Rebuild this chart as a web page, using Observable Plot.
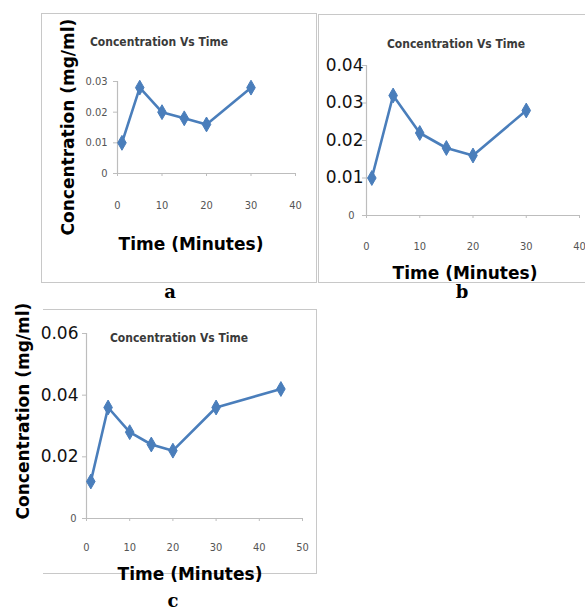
<!DOCTYPE html>
<html>
<head>
<meta charset="utf-8">
<script src="https://cdn.jsdelivr.net/npm/d3@7"></script>
<script src="https://cdn.jsdelivr.net/npm/@observablehq/plot@0.6"></script>
<style>
  html, body { margin: 0; padding: 0; background: #fff; }
  #root { position: relative; width: 585px; height: 612px; overflow: hidden; background: #fff; }
  .abs { position: absolute; white-space: nowrap; line-height: 1; }
  .box { position: absolute; box-sizing: border-box; }
  .ttl { font-family: "Liberation Sans Narrow", "DejaVu Sans Condensed", sans-serif; font-weight: bold; font-size: 12px; color: #3a3a3a; }
  .axl { font-family: "DejaVu Sans", sans-serif; font-weight: bold; font-size: 17px; color: #000; }
  .pl { font-family: "DejaVu Serif", "Liberation Serif", serif; font-weight: bold; font-size: 18px; color: #000; }
</style>
</head>
<body>
<div id="root"></div>
<script>
// ---- data ----
const chartTitle = "Concentration Vs Time";
const xLabel = "Time (Minutes)";
const yLabel = "Concentration (mg/ml)";
const panelLabels = ["a", "b", "c"];

const timeA = [1, 5, 10, 15, 20, 30];
const concA = [0.010, 0.028, 0.020, 0.018, 0.016, 0.028];
const xTicksA = [0, 10, 20, 30, 40];
const yTicksA = [0, 0.01, 0.02, 0.03];

const timeB = [1, 5, 10, 15, 20, 30];
const concB = [0.010, 0.032, 0.022, 0.018, 0.016, 0.028];
const xTicksB = [0, 10, 20, 30, 40];
const yTicksB = [0, 0.01, 0.02, 0.03, 0.04];

const timeC = [1, 5, 10, 15, 20, 30, 45];
const concC = [0.012, 0.036, 0.028, 0.024, 0.022, 0.036, 0.042];
const xTicksC = [0, 10, 20, 30, 40, 50];
const yTicksC = [0, 0.02, 0.04, 0.06];

const lineColor = "#4a7ebb";
const axisColor = "#bdbdbd";
const smallFont = "Liberation Sans Narrow, DejaVu Sans Condensed, sans-serif";
const bigFont = "DejaVu Sans, sans-serif";

const root = document.getElementById("root");

function addText(cls, text, x, y, rot) {
  const d = document.createElement("div");
  d.className = "abs " + cls;
  d.textContent = text;
  d.style.left = x + "px";
  d.style.top = y + "px";
  d.style.transform = "translate(-50%, -50%)" + (rot ? " rotate(" + rot + "deg)" : "");
  root.appendChild(d);
}
function addBox(l, t, w, h, sides) {
  const d = document.createElement("div");
  d.className = "box";
  d.style.left = l + "px"; d.style.top = t + "px";
  d.style.width = w + "px"; d.style.height = h + "px";
  for (const s of ["top", "right", "bottom", "left"]) {
    d.style["border-" + s] = sides.includes(s) ? "1.5px solid #c8c8c8" : "none";
  }
  root.appendChild(d);
}

function panel(opts) {
  const data = opts.time.map((t, i) => ({t, c: opts.conc[i]}));
  const fmt = d => d === 0 ? "0" : d.toFixed(2);
  const yBigTicks = opts.yBig ? opts.yTicks.filter(d => d !== 0) : [];
  const ySmallTicks = opts.yBig ? [0] : opts.yTicks;
  const marks = [
    Plot.ruleX([0], {stroke: axisColor, strokeWidth: 1.2}),
    Plot.ruleY([0], {stroke: axisColor, strokeWidth: 1.2}),
    Plot.axisX({ticks: opts.xTicks, tickSize: 3, tickPadding: opts.xPad, fontSize: 11,
                fontFamily: smallFont, stroke: axisColor, fill: "#555", label: null}),
    Plot.axisY({ticks: ySmallTicks, tickSize: 4, tickPadding: opts.yPad, fontSize: 11,
                fontFamily: smallFont, stroke: axisColor, fill: "#555", tickFormat: fmt, label: null}),
  ];
  if (opts.yBig) {
    marks.push(Plot.axisY({ticks: yBigTicks, tickSize: 4, tickPadding: opts.yBigPad, fontSize: 17,
                fontFamily: bigFont, stroke: axisColor, fill: "#111", tickFormat: fmt, label: null}));
  }
  marks.push(
    Plot.line(data, {x: "t", y: "c", stroke: lineColor, strokeWidth: 2.6}),
    Plot.dot(data, {x: "t", y: "c", symbol: "diamond", r: 4.5, fill: lineColor, stroke: lineColor, strokeWidth: 1})
  );
  const p = Plot.plot({
    width: opts.w, height: opts.h,
    marginLeft: opts.ml, marginRight: opts.mr, marginTop: opts.mt, marginBottom: opts.mb,
    x: {domain: opts.xDomain},
    y: {domain: opts.yDomain},
    style: {background: "transparent", fontFamily: smallFont, overflow: "visible"},
    marks
  });
  p.style.position = "absolute";
  p.style.left = opts.left + "px";
  p.style.top = opts.top + "px";
  root.appendChild(p);
}

// borders
addBox(41, 13, 276, 270, ["top", "right", "bottom", "left"]);
addBox(318, 14, 300, 269, ["top", "bottom", "left"]);
addBox(43, 309, 274, 265, ["top", "right", "bottom"]);

// panel a
panel({time: timeA, conc: concA, xTicks: xTicksA, yTicks: yTicksA, xDomain: [0, 40], yDomain: [0, 0.03],
  left: 0, top: 0, w: 320, h: 290, ml: 117, mr: 25, mt: 81, mb: 117, xPad: 25, yPad: 6, yBig: false});
// panel b
panel({time: timeB, conc: concB, xTicks: xTicksB, yTicks: yTicksB, xDomain: [0, 40], yDomain: [0, 0.04],
  left: 310, top: 0, w: 275, h: 290, ml: 56, mr: 6, mt: 65, mb: 75, xPad: 24, yPad: 8, yBig: true, yBigPad: -1});
// panel c
panel({time: timeC, conc: concC, xTicks: xTicksC, yTicks: yTicksC, xDomain: [0, 50], yDomain: [0, 0.06],
  left: 0, top: 290, w: 320, h: 290, ml: 86, mr: 18, mt: 43, mb: 62, xPad: 22, yPad: 6, yBig: true, yBigPad: 4});

// titles
addText("ttl", chartTitle, 159, 42);
addText("ttl", chartTitle, 456, 44);
addText("ttl", chartTitle, 179, 338);
// axis labels
addText("axl", xLabel, 191, 244);
addText("axl", xLabel, 465, 273);
addText("axl", xLabel, 190, 574);
addText("axl", yLabel, 68, 127, -90);
addText("axl", yLabel, 23, 411, -90);
// panel letters
addText("pl", panelLabels[0], 170, 292);
addText("pl", panelLabels[1], 462, 292);
addText("pl", panelLabels[2], 173, 601);
</script>
</body>
</html>
